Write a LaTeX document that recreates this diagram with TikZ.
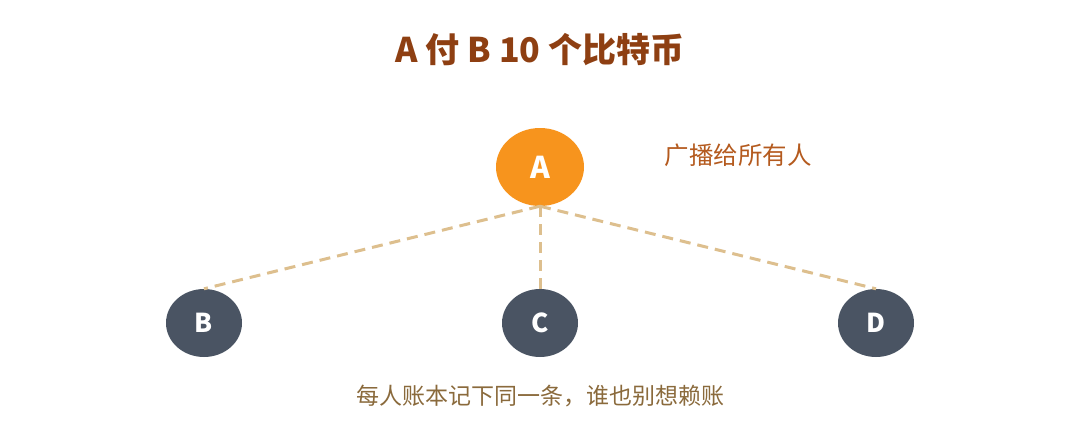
\documentclass[tikz,border=0pt]{standalone}
\usepackage{fontspec}
\setmainfont{Noto Sans CJK SC}
\usepackage{tikz}
\usetikzlibrary{shapes}
\definecolor{titlebrown}{HTML}{8E3F12}
\definecolor{notebrown}{HTML}{B45A1E}
\definecolor{footbrown}{HTML}{8A6A3C}
\definecolor{payer}{HTML}{F7941D}
\definecolor{peer}{HTML}{4A5463}
\definecolor{link}{HTML}{DDBF8E}
\tikzstyle{sender} = [ellipse, fill=payer, minimum width=88pt, minimum height=78pt, inner sep=0pt, text=white, font=\fontsize{30}{32}\selectfont\bfseries]
\tikzstyle{peernode} = [ellipse, fill=peer, minimum width=76pt, minimum height=68pt, inner sep=0pt, text=white, font=\fontsize{26}{28}\selectfont\bfseries]
\tikzstyle{broadcast} = [draw=link, line width=3pt, dash pattern=on 11pt off 7pt]

\begin{document}
\begin{tikzpicture}[x=1pt, y=-1pt]
    \useasboundingbox (0,0) rectangle (1080,426);
    \node [font=\fontsize{34}{36}\selectfont\bfseries, text=titlebrown] (title) at (540,50) {A\ 付\ B\ 10\ 个比特币};
    \node [sender] (a) at (540,167) {A};
    \node [font=\fontsize{24.5}{26}\selectfont, text=notebrown] (note) at (738,155) {广播给所有人};
    \node [peernode] (b) at (204,323) {B};
    \node [peernode] (c) at (540,323) {C};
    \node [peernode] (d) at (876,323) {D};

    % A -> everyone
    \draw [broadcast] (a.south) -- (b.north);
    \draw [broadcast] (a.south) -- (c.north);
    \draw [broadcast] (a.south) -- (d.north);

    % footer
    \node [font=\fontsize{23}{25}\selectfont, text=footbrown] (foot) at (540,396) {每人账本记下同一条，谁也别想赖账};
  \end{tikzpicture}
\end{document}
